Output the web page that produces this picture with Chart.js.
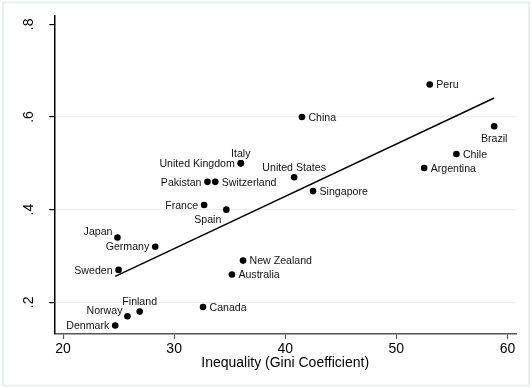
<!DOCTYPE html>
<html>
<head>
<meta charset="utf-8">
<script src="https://cdn.jsdelivr.net/npm/chart.js@4.4.0/dist/chart.umd.min.js"></script>
<style>
  body { margin: 0; background: #fff; }
  #wrap { width: 532px; height: 388px; }
</style>
</head>
<body>
<div id="wrap"><canvas id="gatsby" width="532" height="388"></canvas></div>
<script>
// data
const countries = ["Denmark", "Norway", "Finland", "Canada", "Australia", "Sweden", "New Zealand",
  "Germany", "Japan", "Spain", "France", "Singapore", "Pakistan", "Switzerland", "United States",
  "Argentina", "Italy", "United Kingdom", "Chile", "Brazil", "China", "Peru"];
const gini = [24.7, 25.8, 26.9, 32.6, 35.2, 25.0, 36.2, 28.3, 24.9, 34.7, 32.7, 42.5, 33.0, 33.7,
  40.8, 52.5, 36.0, 36.0, 55.4, 58.8, 41.5, 53.0];
const elasticity = [0.15, 0.17, 0.18, 0.19, 0.26, 0.27, 0.29, 0.32, 0.34, 0.40, 0.41, 0.44, 0.46, 0.46,
  0.47, 0.49, 0.50, 0.50, 0.52, 0.58, 0.60, 0.67];
// clock position of each marker label
const labelPos = [9, 10, 12, 3, 3, 9, 3, 9, 10, 7, 9, 3, 9, 3, 12, 3, 12, 9, 3, 6, 3, 3];

const fitX = [24.7, 58.8];
const fitY = [0.256, 0.641];

const xTicks = [20, 30, 40, 50, 60];
const yTicks = [0.2, 0.4, 0.6, 0.8];
const yTickLabels = [".2", ".4", ".6", ".8"];
const xTitle = "Inequality (Gini Coefficient)";

const FONT = '"Liberation Sans", Arial, sans-serif';

// where each clock position puts the text
const clockOffsets = {
  3:  { dx: 6.5, dy: 0.8, align: 'left' },
  9:  { dx: -6, dy: 0.8, align: 'right' },
  12: { dx: 0, dy: -9, align: 'center' },
  6:  { dx: 0, dy: 12.6, align: 'center' },
  10: { dx: -5, dy: -5.4, align: 'right' },
  7:  { dx: -5, dy: 10, align: 'right' }
};

const frame = {
  id: 'frame',
  beforeDraw(chart) {
    const c = chart.ctx;
    c.save();
    c.fillStyle = '#fff';
    c.fillRect(0, 0, chart.width, chart.height);
    c.strokeStyle = '#e6eff1';
    c.lineWidth = 2;
    c.strokeRect(3, 2.5, 526, 383);
    c.restore();
  }
};

const yLabels = {
  id: 'yLabels',
  afterDraw(chart) {
    const c = chart.ctx;
    const y = chart.scales.y;
    c.save();
    c.fillStyle = '#000';
    c.font = '14px ' + FONT;
    c.textAlign = 'center';
    c.textBaseline = 'alphabetic';
    yTicks.forEach((v, i) => {
      c.save();
      c.translate(33.3, y.getPixelForValue(v));
      c.rotate(-Math.PI / 2);
      c.fillText(yTickLabels[i], 0, 0);
      c.restore();
    });
    c.restore();
  }
};

const pointLabels = {
  id: 'pointLabels',
  afterDatasetsDraw(chart) {
    const c = chart.ctx;
    const meta = chart.getDatasetMeta(1);
    c.save();
    c.fillStyle = '#111';
    c.font = '10.6px ' + FONT;
    c.textBaseline = 'middle';
    meta.data.forEach((pt, i) => {
      const o = clockOffsets[labelPos[i]];
      c.textAlign = o.align;
      c.fillText(countries[i], pt.x + o.dx, pt.y + o.dy);
    });
    c.restore();
  }
};

const ctx = document.getElementById('gatsby').getContext('2d');
new Chart(ctx, {
  type: 'scatter',
  data: {
    datasets: [
      {
        type: 'line',
        data: fitX.map((x, i) => ({ x: x, y: fitY[i] })),
        borderColor: '#000',
        borderWidth: 1.4,
        pointRadius: 0,
        fill: false
      },
      {
        data: gini.map((g, i) => ({ x: g, y: elasticity[i] })),
        backgroundColor: '#000',
        borderColor: '#000',
        borderWidth: 0,
        pointRadius: 3.3
      }
    ]
  },
  options: {
    responsive: false,
    animation: false,
    devicePixelRatio: 1,
    layout: { padding: { left: 0, top: 16, right: 16, bottom: 0 } },
    plugins: { legend: { display: false }, tooltip: { enabled: false } },
    scales: {
      x: {
        type: 'linear',
        position: 'bottom',
        min: 19.217,
        max: 60.765,
        afterBuildTicks: s => { s.ticks = xTicks.map(v => ({ value: v })); },
        afterFit: s => { s.height = 54; },
        grid: { drawOnChartArea: false, tickLength: 5, tickColor: '#555', tickWidth: 1.2 },
        border: { color: '#555', width: 1.5 },
        ticks: { padding: 1.5, color: '#000', font: { family: FONT, size: 14 }, maxRotation: 0 },
        title: { display: true, text: xTitle, color: '#000', font: { family: FONT, size: 14 },
          padding: { top: 0, bottom: 16.5 } }
      },
      y: {
        type: 'linear',
        min: 0.1316,
        max: 0.818,
        afterBuildTicks: s => { s.ticks = yTicks.map(v => ({ value: v })); },
        afterFit: s => { s.width = 54.3; },
        grid: {
          color: c => (c.tick && c.tick.value === 0.8) ? 'rgba(0,0,0,0)' : '#e6eff1',
          lineWidth: 1.2,
          tickLength: 5,
          tickColor: '#000',
          tickWidth: 1.2
        },
        border: { color: '#000', width: 1.5 },
        ticks: { display: false }
      }
    }
  },
  plugins: [frame, yLabels, pointLabels]
});
</script>
</body>
</html>
